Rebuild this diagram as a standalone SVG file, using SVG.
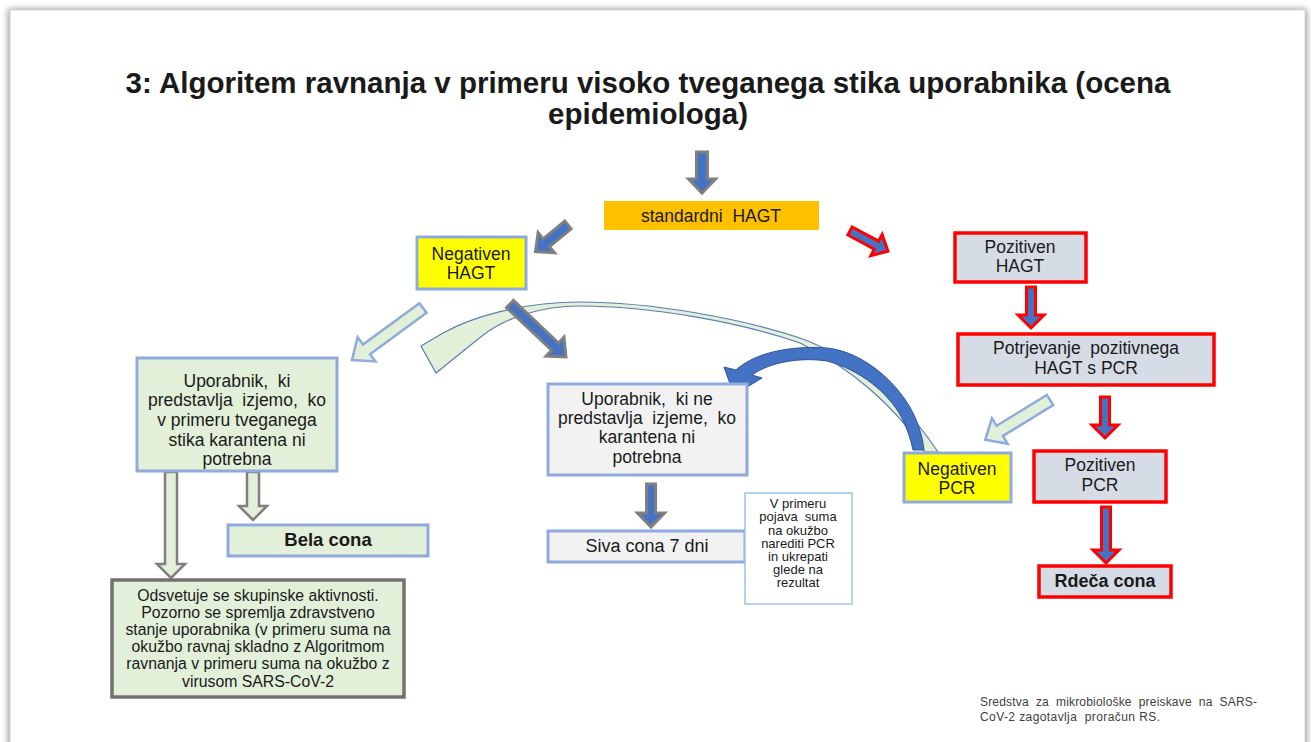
<svg xmlns="http://www.w3.org/2000/svg" width="1311" height="742" viewBox="0 0 1311 742">
<defs>
<filter id="sh" x="-5%" y="-5%" width="110%" height="110%"><feGaussianBlur stdDeviation="3"/></filter>
<style>
text{font-family:"Liberation Sans",Arial,sans-serif;fill:#1a1a1a;text-anchor:middle;white-space:pre}
.t{font-size:17.5px}
.b{font-weight:bold}
.n{font-size:13px}
.o{font-size:15.8px}
.box-blue{stroke:#8FAADC;stroke-width:3}
.box-red{fill:#D6DCE5;stroke:#FF0000;stroke-width:3.5}
.a-blue{fill:#4472C4;stroke:#7F7F7F;stroke-width:3}
.a-red{fill:#4472C4;stroke:#FF0000;stroke-width:3}
.a-lg{fill:#E2F0D9;stroke:#8FAADC;stroke-width:2.5}
.a-lgg{fill:#E2F0D9;stroke:#7F7F7F;stroke-width:2.5}
</style>
</defs>
<rect width="1311" height="742" fill="#ffffff"/>
<rect x="8" y="9" width="1299" height="760" fill="#9a9a9a" filter="url(#sh)"/>
<rect x="10" y="10" width="1295" height="760" fill="#ffffff" stroke="#d8d8d8" stroke-width="1"/>

<text class="b" x="648" y="93" font-size="29.5">3: Algoritem ravnanja v primeru visoko tveganega stika uporabnika (ocena</text>
<text class="b" x="648" y="124" font-size="29.5">epidemiologa)</text>

<g id="connectors">
<path d="M421,346 L443,333 C470,318 520,302 580,302 C650,302 740,318 800,338 C850,356 900,395 938,452 L925,452 C895,405 850,368 800,343 C740,322 650,306 580,306 C540,306 505,318 482,336 L462,352 L436,373 Z" fill="#E2F0D9" stroke="#5B7DB1" stroke-width="1.2"/>
<path d="M734,395 L724,367 L736,370 C752,355 785,345 827,348 C865,352 900,385 914,415 C920,428 923,440 924,450 L913,450 C911,440 907,428 902,418 C888,392 860,370 827,361 C800,357 770,362 752,375 L762,378 Z" fill="#4472C4" stroke="#2F5597" stroke-width="1"/>
<path class="a-blue" transform="translate(702,152)" d="M-5.5,0 L5.5,0 L5.5,27 L13.5,27 L0,41 L-13.5,27 L-5.5,27 Z"/>
<path class="a-blue" transform="translate(568,225) rotate(50.7)" d="M-5,0 L5,0 L5,28 L13,28 L0,42 L-13,28 L-5,28 Z"/>
<path class="a-red" transform="translate(850,231) rotate(-62)" d="M-4.5,0 L4.5,0 L4.5,30 L12,30 L0,43 L-12,30 L-4.5,30 Z"/>
<path class="a-red" transform="translate(1031,287)" d="M-4.5,0 L4.5,0 L4.5,28 L13,28 L0,41 L-13,28 L-4.5,28 Z"/>
<path class="a-red" transform="translate(1105,397)" d="M-4.5,0 L4.5,0 L4.5,28 L13,28 L0,41 L-13,28 L-4.5,28 Z"/>
<path class="a-red" transform="translate(1106,507)" d="M-4.5,0 L4.5,0 L4.5,43 L13,43 L0,56 L-13,43 L-4.5,43 Z"/>
<path class="a-blue" transform="translate(510,304) rotate(-46.6)" d="M-5,0 L5,0 L5,62 L13,62 L0,77 L-13,62 L-5,62 Z"/>
<path class="a-blue" transform="translate(651,484)" d="M-4.5,0 L4.5,0 L4.5,29 L13.5,29 L0,43 L-13.5,29 L-4.5,29 Z"/>
<path class="a-lg" transform="translate(423,308) rotate(53.8)" d="M-6,0 L6,0 L6,70 L15,70 L0,88 L-15,70 L-6,70 Z"/>
<path class="a-lg" transform="translate(1050,400) rotate(58.4)" d="M-6,0 L6,0 L6,59 L15,59 L0,76 L-15,59 L-6,59 Z"/>
<path class="a-lgg" transform="translate(171,472)" d="M-6,0 L6,0 L6,92 L14,92 L0,106 L-14,92 L-6,92 Z"/>
<path class="a-lgg" transform="translate(253,472)" d="M-6,0 L6,0 L6,34 L14,34 L0,48 L-14,34 L-6,34 Z"/>
</g>

<g id="standardni">
<rect x="604" y="201" width="215" height="29" fill="#FFC000"/>
<text class="t" x="711" y="222">standardni  HAGT</text>
</g>
<g id="neg-hagt">
<rect class="box-blue" x="417" y="237" width="109" height="52" fill="#FFFF00"/>
<text class="t" x="471" y="260">Negativen</text>
<text class="t" x="471" y="279">HAGT</text>
</g>
<g id="poz-hagt">
<rect class="box-red" x="955" y="233" width="131" height="49"/>
<text class="t" x="1020" y="253">Pozitiven</text>
<text class="t" x="1020" y="272">HAGT</text>
</g>
<g id="potrjevanje">
<rect class="box-red" x="958" y="334" width="256" height="51"/>
<text class="t" x="1086" y="354">Potrjevanje  pozitivnega</text>
<text class="t" x="1086" y="374">HAGT s PCR</text>
</g>
<g id="poz-pcr">
<rect class="box-red" x="1034" y="451" width="132" height="51"/>
<text class="t" x="1100" y="471">Pozitiven</text>
<text class="t" x="1100" y="491">PCR</text>
</g>
<g id="rdeca">
<rect class="box-red" x="1039" y="566" width="132" height="31"/>
<text class="b" x="1105" y="587" font-size="18">Rdeča cona</text>
</g>
<g id="neg-pcr">
<rect class="box-blue" x="904" y="453" width="107" height="49" fill="#FFFF00"/>
<text class="t" x="957" y="475">Negativen</text>
<text class="t" x="957" y="494">PCR</text>
</g>
<g id="izjema">
<rect class="box-blue" x="137" y="358" width="200" height="113" fill="#E2F0D9"/>
<text class="t" x="237" y="387">Uporabnik,  ki</text>
<text class="t" x="237" y="406">predstavlja  izjemo,  ko</text>
<text class="t" x="237" y="426">v primeru tveganega</text>
<text class="t" x="237" y="446">stika karantena ni</text>
<text class="t" x="237" y="465">potrebna</text>
</g>
<g id="bela">
<rect class="box-blue" x="228" y="525" width="200" height="31" fill="#E2F0D9"/>
<text class="b" x="328" y="546" font-size="18.5">Bela cona</text>
</g>
<g id="odsvetuje">
<rect x="112" y="580" width="292" height="117" fill="#E2F0D9" stroke="#767171" stroke-width="3.5"/>
<text class="o" x="258" y="601">Odsvetuje se skupinske aktivnosti.</text>
<text class="o" x="258" y="618">Pozorno se spremlja zdravstveno</text>
<text class="o" x="258" y="635">stanje uporabnika (v primeru suma na</text>
<text class="o" x="258" y="652">okužbo ravnaj skladno z Algoritmom</text>
<text class="o" x="258" y="669">ravnanja v primeru suma na okužbo z</text>
<text class="o" x="258" y="687">virusom SARS-CoV-2</text>
</g>
<g id="neizjema">
<rect class="box-blue" x="548" y="384" width="199" height="91" fill="#F2F2F2"/>
<text class="t" x="647" y="405">Uporabnik,  ki ne</text>
<text class="t" x="647" y="424">predstavlja  izjeme,  ko</text>
<text class="t" x="647" y="443">karantena ni</text>
<text class="t" x="647" y="463">potrebna</text>
</g>
<g id="siva">
<rect class="box-blue" x="548" y="531" width="197" height="31" fill="#F2F2F2"/>
<text x="647" y="552" font-size="18">Siva cona 7 dni</text>
</g>
<g id="opomba">
<rect x="745" y="493" width="107" height="111" fill="#ffffff" stroke="#9DC3E6" stroke-width="1.5"/>
<text class="n" x="798" y="508">V primeru</text>
<text class="n" x="798" y="521">pojava  suma</text>
<text class="n" x="798" y="535">na okužbo</text>
<text class="n" x="798" y="548">narediti PCR</text>
<text class="n" x="798" y="561">in ukrepati</text>
<text class="n" x="798" y="574">glede na</text>
<text class="n" x="798" y="587">rezultat</text>
</g>
<g id="footer">
<text x="980" y="706" font-size="12" textLength="277" lengthAdjust="spacing" style="text-anchor:start;fill:#404040">Sredstva  za  mikrobiološke  preiskave  na  SARS-</text>
<text x="980" y="721" font-size="12" textLength="180" lengthAdjust="spacing" style="text-anchor:start;fill:#404040">CoV-2 zagotavlja  proračun RS.</text>
</g>
</svg>
